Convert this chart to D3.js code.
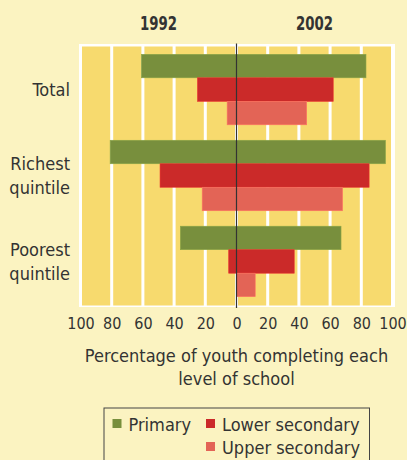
<!DOCTYPE html>
<html>
<head>
<meta charset="utf-8">
<script src="https://cdn.jsdelivr.net/npm/d3@7"></script>
<style>
  html, body { margin: 0; padding: 0; background: #fbf3c1; }
  svg { display: block; }
  text { font-family: 'DejaVu Sans Condensed', 'DejaVu Sans', sans-serif; fill: #333; }
</style>
</head>
<body>
<div id="chart"></div>
<script>
// data
const groups = ['Total', 'Richest quintile', 'Poorest quintile'];
const levels = ['Primary', 'Lower secondary', 'Upper secondary'];
const years = ['1992', '2002'];
const values1992 = [[61, 25, 6], [81, 49, 22], [36, 5, 0]];
const values2002 = [[83, 62, 45], [95.5, 85, 68], [67, 37, 12]];
const ticks = [-100, -80, -60, -40, -20, 0, 20, 40, 60, 80, 100];
const colors = ['#788f3d', '#cb2a29', '#e36456'];

const width = 407, height = 460;
const svg = d3.select('#chart').append('svg')
    .attr('width', width)
    .attr('height', height);

const plot = {left: 80, right: 393, top: 44, bottom: 307};

const x = d3.scaleLinear().domain([-100, 100]).range([plot.left + 0.5, plot.right - 0.5]);

const yGroup = d3.scaleBand()
    .domain(groups)
    .range([plot.top, plot.bottom])
    .paddingInner(0.18)
    .paddingOuter(0.12);

const yLevel = d3.scaleBand()
    .domain(levels)
    .range([0, yGroup.bandwidth()]);

// white frame + yellow columns
svg.append('rect')
    .attr('x', plot.left - 1)
    .attr('y', plot.top)
    .attr('width', plot.right - plot.left + 3)
    .attr('height', plot.bottom - plot.top)
    .attr('fill', '#ffffff');

const cols = d3.range(ticks.length - 1).map(i => [ticks[i], ticks[i + 1]]);
svg.append('g').selectAll('rect').data(cols).join('rect')
    .attr('x', d => x(d[0]) + 1.5)
    .attr('y', plot.top + 2.5)
    .attr('width', d => x(d[1]) - x(d[0]) - 3)
    .attr('height', plot.bottom - plot.top - 4)
    .attr('fill', '#f7da6e');

// bars
const rows = [];
groups.forEach((g, gi) => {
    levels.forEach((l, li) => {
        rows.push({group: g, level: l, li: li, left: values1992[gi][li], right: values2002[gi][li]});
    });
});

svg.append('g').selectAll('rect').data(rows).join('rect')
    .attr('x', d => x(-d.left))
    .attr('y', d => yGroup(d.group) + yLevel(d.level))
    .attr('width', d => x(d.right) - x(-d.left))
    .attr('height', yLevel.bandwidth())
    .attr('fill', d => colors[d.li])
    .attr('stroke', d => d3.color(colors[d.li]).brighter(0.4))
    .attr('stroke-width', 0.6);

// centre line
svg.append('line')
    .attr('x1', x(0)).attr('x2', x(0))
    .attr('y1', plot.top - 0.5).attr('y2', plot.bottom + 1)
    .attr('stroke', '#333')
    .attr('stroke-width', 1.2);

// year titles (condensed bold look)
svg.append('g').selectAll('text').data(years).join('text')
    .attr('transform', (d, i) => {
        const cx = i === 0 ? (x(-100) + x(0)) / 2 : (x(0) + x(100)) / 2;
        return `translate(${cx}, 29.5) scale(0.74, 1)`;
    })
    .attr('text-anchor', 'middle')
    .style('font-size', '20px')
    .style('font-weight', 'bold')
    .text(d => d);

// group labels
const gl = svg.append('g').selectAll('text').data(groups).join('text')
    .attr('text-anchor', 'end')
    .style('font-size', '18px');
gl.each(function (d) {
    const words = d.split(' ');
    const cy = yGroup(d) + yGroup.bandwidth() / 2;
    const t = d3.select(this);
    words.forEach((w, i) => {
        t.append('tspan')
            .attr('x', 70)
            .attr('y', cy + 6.5 + (i - (words.length - 1) / 2) * 23.5)
            .text(w);
    });
});

// x axis
const xAxis = d3.axisBottom(x)
    .tickValues(ticks)
    .tickFormat(d => Math.abs(d))
    .tickSize(0)
    .tickPadding(0);
const ax = svg.append('g')
    .attr('transform', `translate(0, ${plot.bottom + 11})`)
    .call(xAxis);
ax.select('.domain').remove();
ax.selectAll('text')
    .style('font-size', '16px')
    .style('font-family', null)
    .attr('fill', '#333');

svg.append('text')
    .attr('x', 236.5)
    .attr('y', 362)
    .attr('text-anchor', 'middle')
    .style('font-size', '18px')
    .text('Percentage of youth completing each');
svg.append('text')
    .attr('x', 236.5)
    .attr('y', 385)
    .attr('text-anchor', 'middle')
    .style('font-size', '18px')
    .text('level of school');

// legend
const legend = svg.append('g');
legend.append('rect')
    .attr('x', 104)
    .attr('y', 408)
    .attr('width', 265.5)
    .attr('height', 60)
    .attr('fill', 'none')
    .attr('stroke', '#444')
    .attr('stroke-width', 1);

const legendPos = [{x: 112.5, y: 419}, {x: 206, y: 419}, {x: 206, y: 442}];
const li = legend.selectAll('g.item').data(levels).join('g')
    .attr('class', 'item')
    .attr('transform', (d, i) => `translate(${legendPos[i].x}, ${legendPos[i].y})`);
li.append('rect')
    .attr('width', 9)
    .attr('height', 9)
    .attr('fill', (d, i) => colors[i]);
li.append('text')
    .attr('x', 16)
    .attr('y', 11.5)
    .style('font-size', '18px')
    .text(d => d);
</script>
</body>
</html>
